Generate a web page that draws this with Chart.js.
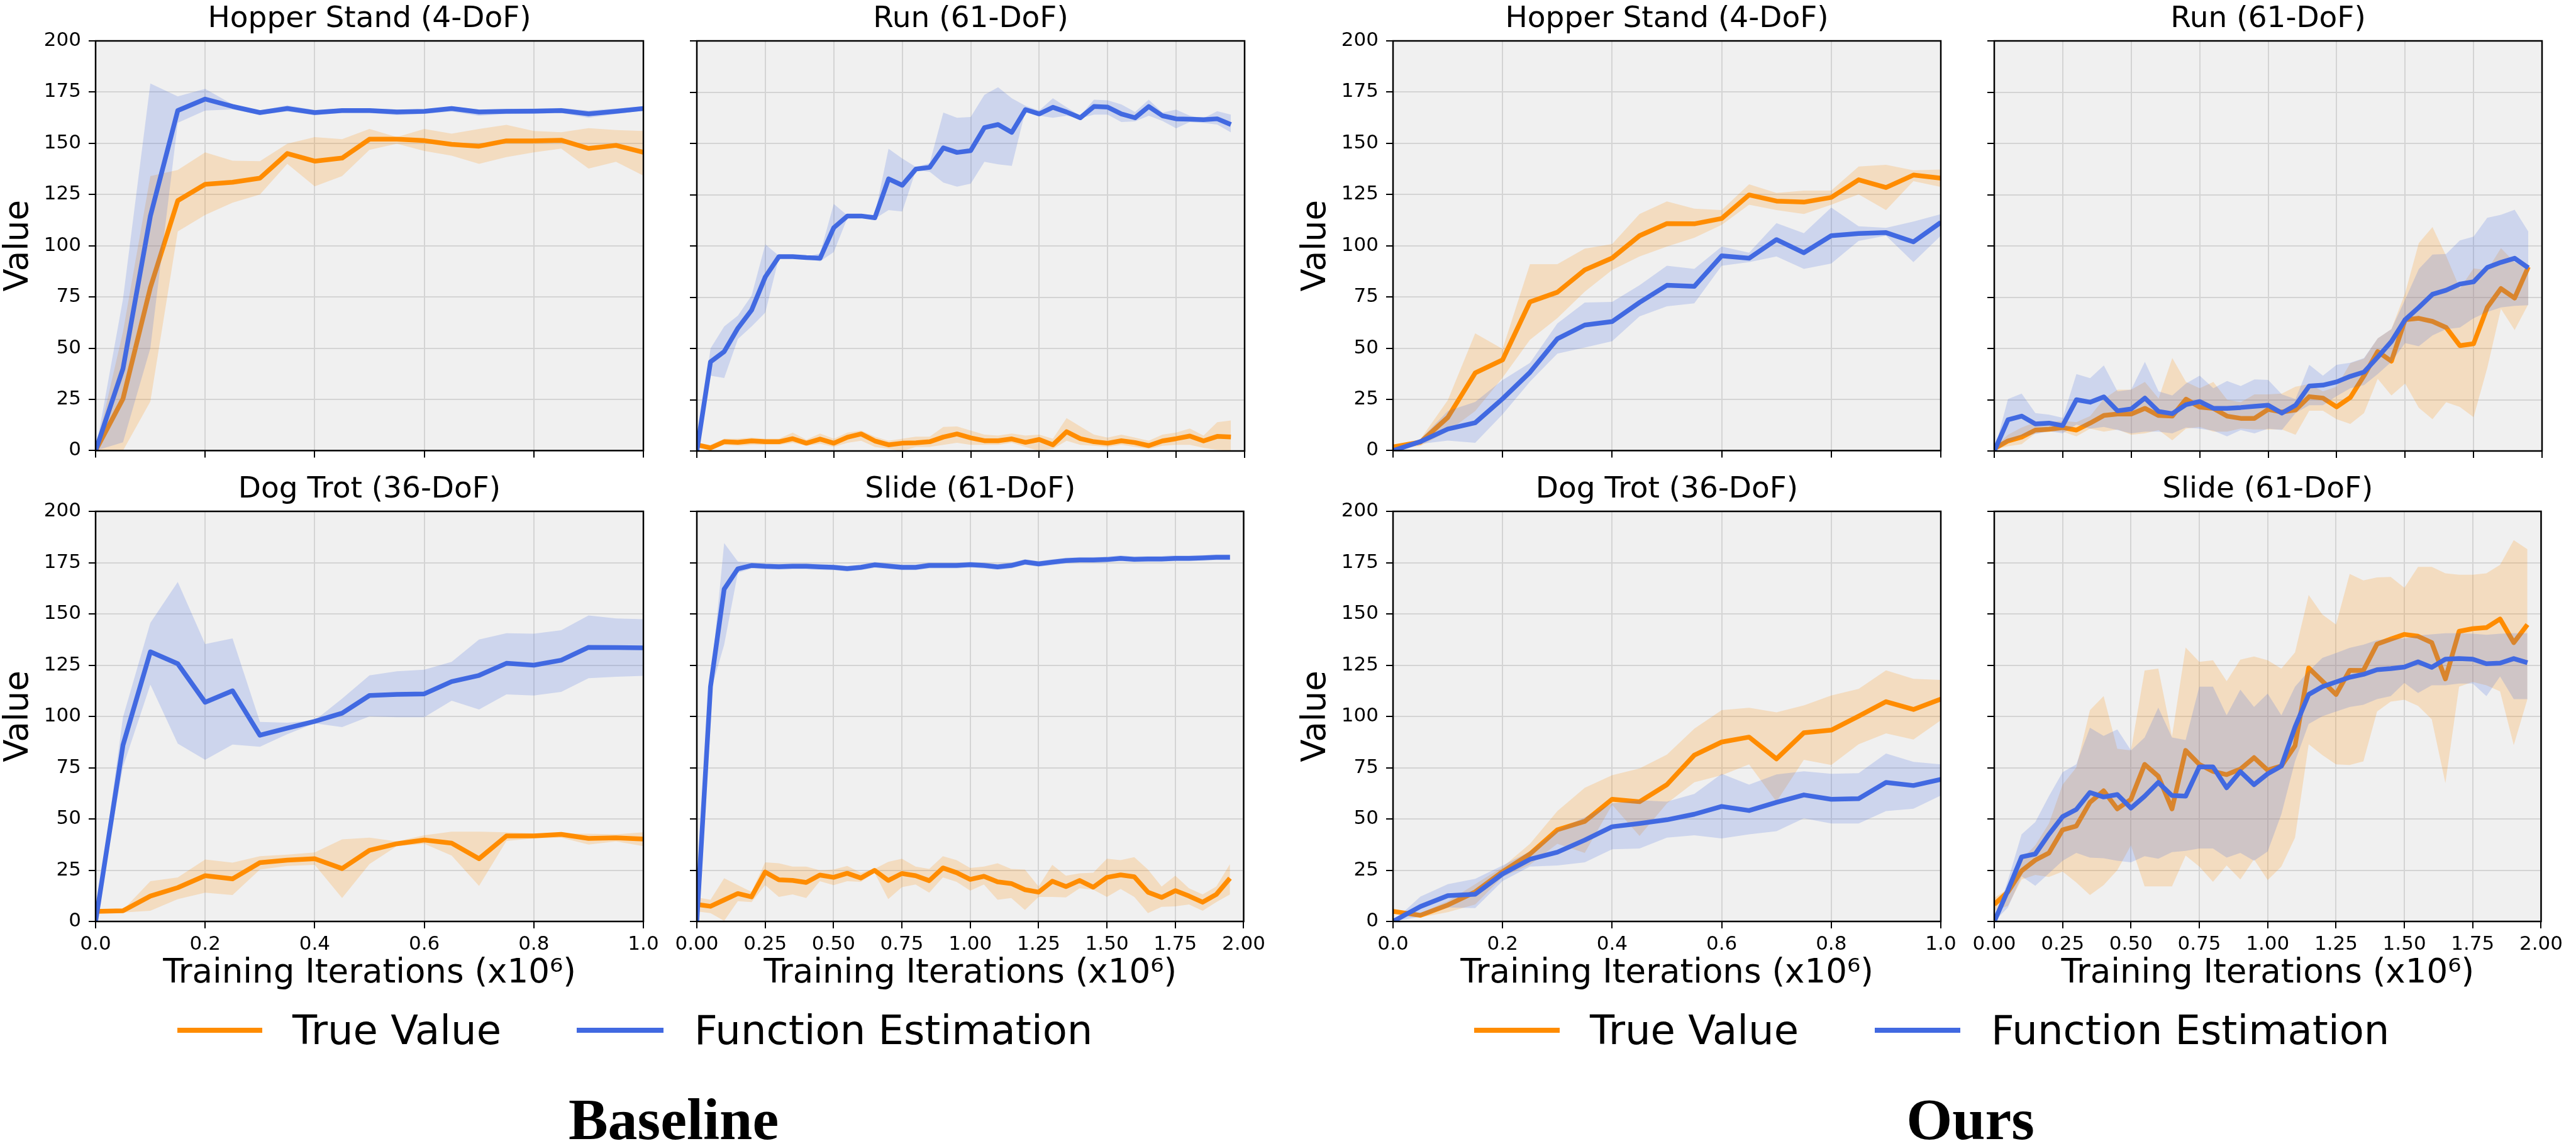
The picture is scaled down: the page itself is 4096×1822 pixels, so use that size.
<!DOCTYPE html>
<html>
<head>
<meta charset="utf-8">
<script src="https://cdn.jsdelivr.net/npm/chart.js@4.4.1/dist/chart.umd.min.js"></script>
<style>
  html, body { margin: 0; padding: 0; background: #fff; }
  body { width: 4096px; height: 1822px; position: relative; overflow: hidden; font-family: 'DejaVu Sans', sans-serif; }
  canvas { position: absolute; }
  .leg-line { position: absolute; height: 8px; }
  .leg-text { position: absolute; font-size: 64px; line-height: 1; white-space: nowrap; color: #000; }
  .caption { position: absolute; width: 600px; text-align: center; font-family: 'Liberation Serif', serif; font-weight: bold; font-size: 94px; line-height: 1; color: #000; }
</style>
</head>
<body>

<!-- legends -->
<div class="leg-line" style="left:282px;top:1634px;width:135px;background:#ff8c00"></div>
<div class="leg-text" style="left:465px;top:1606px">True Value</div>
<div class="leg-line" style="left:917px;top:1634px;width:138px;background:#4169e1"></div>
<div class="leg-text" style="left:1104px;top:1606px">Function Estimation</div>

<div class="leg-line" style="left:2344px;top:1634px;width:136px;background:#ff8c00"></div>
<div class="leg-text" style="left:2528px;top:1606px">True Value</div>
<div class="leg-line" style="left:2981px;top:1634px;width:136px;background:#4169e1"></div>
<div class="leg-text" style="left:3166px;top:1606px">Function Estimation</div>

<div class="caption" style="left:771px;top:1732px">Baseline</div>
<div class="caption" style="left:2833px;top:1732px">Ours</div>

<script>
// x positions (x10^6 iterations)
const xShort = [0, 0.05, 0.1, 0.15, 0.2, 0.25, 0.3, 0.35, 0.4, 0.45, 0.5, 0.55, 0.6, 0.65, 0.7, 0.75, 0.8, 0.85, 0.9, 0.95, 1.0];
const xLong = [0, 0.05, 0.1, 0.15, 0.2, 0.25, 0.3, 0.35, 0.4, 0.45, 0.5, 0.55, 0.6, 0.65, 0.7, 0.75, 0.8, 0.85, 0.9, 0.95,
               1.0, 1.05, 1.1, 1.15, 1.2, 1.25, 1.3, 1.35, 1.4, 1.45, 1.5, 1.55, 1.6, 1.65, 1.7, 1.75, 1.8, 1.85, 1.9, 1.95];
const yTicks = [0, 25, 50, 75, 100, 125, 150, 175, 200];

// ---- Baseline ----
const hopperBaseTrue   = [0, 25.3, 79.6, 122, 130, 131, 133, 145, 141.3, 142.8, 152, 152, 151.3, 149.5, 148.6, 151.2, 151.2, 151.5, 147.5, 149, 145.6];
const hopperBaseTrueHi = [0, 58, 134, 137, 145.6, 141.5, 141.3, 149.8, 153, 152, 157, 153, 157, 154.7, 157, 159, 156, 155.4, 157.4, 156.5, 156];
const hopperBaseTrueLo = [0, 0, 24, 107, 115, 121, 125, 140, 129, 134, 146.8, 149.8, 146.3, 144, 140, 143.3, 145.6, 147.4, 137.7, 141, 134.2];
const hopperBaseEst    = [0, 40, 114.5, 166, 171.6, 168, 165, 167, 165, 166, 166, 165.3, 165.6, 167, 165.3, 165.6, 165.7, 166, 164.4, 165.6, 167];
const hopperBaseEstHi  = [0, 74, 179.2, 172.9, 176.6, 169, 166, 168.5, 166.3, 167, 167, 166.5, 166.5, 168, 166.5, 166.8, 167, 167.2, 166, 167, 168];
const hopperBaseEstLo  = [0, 4, 50, 160, 166, 166.5, 164, 165.5, 163.8, 164.8, 164.8, 163.8, 164.4, 165.5, 163.5, 164.3, 164.4, 164.8, 162.5, 164.3, 166];

const runBaseTrue   = [3, 1.5, 4.5, 4.2, 4.9, 4.5, 4.5, 6, 3.8, 5.8, 3.8, 6.7, 8.3, 4.9, 3, 3.8, 4, 4.5, 6.8, 8.3,
                       6.4, 5, 5, 5.9, 4.2, 5.6, 3, 9.4, 6, 4.5, 3.8, 5, 4.1, 2.6, 4.9, 6, 7.3, 4.9, 7.1, 6.8];
const runBaseTrueHi = [4, 3, 6, 6, 6.5, 6, 6, 9, 5.5, 8.5, 6, 9, 10, 7, 5, 6, 7, 7, 11.7, 12,
                       10, 8, 7.5, 8.5, 7.5, 8, 6, 16, 12, 8, 6.5, 8, 6.5, 5, 8, 9, 11, 7.5, 14, 14.9];
const runBaseTrueLo = [2, 0.5, 3, 2.5, 3, 3, 3, 4, 2.5, 3.5, 2, 4, 5, 2, 1, 0, 2, 2, 3, 4,
                       3, 3, 3, 4, 2, 0, 1, 5, 3, 2.5, 2, 3, 2, 1, 2.5, 3, 3, 1.5, 0.5, 0];
const runBaseEst    = [0, 43.5, 48.5, 59.9, 68.7, 84.9, 94.8, 94.8, 94.3, 94, 108.9, 114.6, 114.6, 113.7, 132.7, 129.6, 137.5, 138.3, 147.8, 145.6,
                       146.5, 157.7, 159.2, 155.4, 166.5, 164.4, 167.6, 165.3, 162.5, 168, 167.7, 164.4, 162.5, 168, 163.5, 162, 161.8, 161.6, 162, 159.2];
const runBaseEstHi  = [0, 50, 60.7, 66, 75.8, 100.8, 95.2, 95.2, 94.8, 96.3, 120.5, 114.9, 115, 115.2, 147.4, 142.6, 138.5, 140.3, 165, 162.5,
                       162.9, 173.7, 177.4, 172, 168.3, 166, 172, 167.6, 163.5, 171.3, 171, 169, 165.3, 171.3, 165, 166.5, 163.5, 162.3, 165.7, 164];
const runBaseEstLo  = [0, 36.7, 35.6, 54.6, 60.7, 67.5, 94.4, 94.4, 93.7, 92.5, 97, 113.7, 114, 113.3, 117.5, 116.8, 137, 136.2, 130.9, 128.9,
                       130.4, 141, 139.8, 139, 166, 163.5, 162.5, 163.5, 162.3, 164, 164, 160.4, 160.7, 163.5, 161, 157.4, 160.4, 160, 159.2, 155.4];

const dogBaseTrue   = [4.9, 5.2, 12.4, 16.5, 22.3, 20.8, 28.7, 29.9, 30.6, 25.8, 34.7, 37.9, 39.7, 38.2, 30.6, 41.7, 41.7, 42.5, 40.5, 40.8, 40.2];
const dogBaseTrueHi = [5.6, 5.6, 19.6, 21.5, 30.2, 28.7, 31.8, 32.6, 33.7, 40, 40.9, 39, 42, 43.8, 43.8, 43.5, 43, 42.8, 42.8, 42.5, 43.5];
const dogBaseTrueLo = [4.1, 4.4, 5.2, 10.9, 14, 12.9, 25.3, 27.1, 27.6, 11.4, 28, 36.7, 37.9, 32.1, 17.3, 39.3, 40.5, 40.9, 37.5, 39, 36.7];
const dogBaseEst    = [0, 86, 131.5, 125.7, 106.9, 112.5, 90.8, 94.3, 97.6, 101.6, 110.2, 110.7, 111, 117, 120, 125.9, 125, 127.4, 133.7, 133.6, 133.4];
const dogBaseEstHi  = [0, 99.6, 145.6, 165.6, 135.3, 138, 97.3, 96.9, 98, 108.7, 120, 122, 122.8, 126.6, 137.5, 140.6, 140.3, 142, 149.2, 147.8, 147.4];
const dogBaseEstLo  = [0, 75.4, 115.5, 86.7, 78.8, 86.3, 85.2, 91.3, 96.6, 94.8, 100, 99.6, 99.6, 107.7, 103.4, 110.7, 110.2, 112, 118.6, 119.3, 119.8];

const slideBaseTrue   = [8.3, 7.4, 10.5, 13.6, 12, 24.1, 20.3, 20, 19, 22.6, 21.5, 23.5, 21.2, 24.9, 20, 23.4, 22.3, 19.9, 26.1, 23.8,
                         20.5, 22, 19.3, 18.5, 15.5, 14.3, 19.6, 17, 20, 16.7, 21.5, 22.7, 21.8, 14.3, 11.7, 15, 12.4, 9.4, 13.2, 21.1];
const slideBaseTrueHi = [11.7, 10.6, 21.1, 17.7, 14.4, 28.8, 28.4, 26.8, 26.8, 24.9, 25.3, 27.1, 23.8, 25.6, 29.1, 30.6, 26.8, 25.6, 31.8, 29.9,
                         26.1, 26.8, 28.4, 25.6, 25.3, 17, 27.6, 22.3, 23.5, 23.8, 30.6, 29.9, 31.4, 25.3, 17, 22.3, 16.2, 13.2, 17, 28];
const slideBaseTrueLo = [4.9, 4.1, 0.3, 9.9, 9.4, 17.7, 12, 13.2, 11.4, 19.6, 17.7, 19.6, 19.3, 23.8, 10.9, 16.7, 18, 14, 21.5, 19.3,
                         15, 18, 10.6, 11.4, 5.6, 12, 12, 11.7, 16.2, 15.5, 12, 15.9, 12, 4.1, 7.1, 7.4, 8.3, 5.2, 9.4, 13.2];
const slideBaseEst    = [0, 114.5, 162.1, 172, 173.6, 173.2, 173, 173.2, 173.2, 172.9, 172.7, 172.1, 172.7, 173.9, 173.3, 172.7, 172.7, 173.6, 173.6, 173.6,
                         174, 173.6, 172.9, 173.6, 175.3, 174.4, 175.2, 176, 176.3, 176.3, 176.5, 177.1, 176.6, 176.8, 176.8, 177.1, 177.1, 177.3, 177.6, 177.6];
const slideBaseEstHi  = [0, 116, 184.5, 175.5, 175, 174.6, 174.4, 174.6, 174.6, 174.3, 174.1, 173.5, 174.1, 175.3, 174.7, 174.1, 174.1, 175, 175, 175,
                         175.4, 175, 174.3, 175, 176.7, 175.8, 176.6, 177.4, 177.7, 177.7, 177.9, 178.5, 178, 178.2, 178.2, 178.5, 178.5, 178.7, 179, 179];
const slideBaseEstLo  = [0, 112, 135, 170, 172.2, 171.8, 171.6, 171.8, 171.8, 171.5, 171.3, 170.7, 171.3, 172.5, 171.9, 171.3, 171.3, 172.2, 172.2, 172.2,
                         172.6, 172.2, 171.5, 172.2, 173.9, 173, 173.8, 174.6, 174.9, 174.9, 175.1, 175.7, 175.2, 175.4, 175.4, 175.7, 175.7, 175.9, 176.2, 176.2];

// ---- Ours ----
const hopperOursTrue   = [1.8, 4.1, 16.2, 37.9, 44.3, 72.6, 77.3, 88.2, 94, 104.9, 110.8, 110.7, 113.3, 124.8, 121.8, 121.3, 123.6, 132.2, 128.4, 134.5, 133];
const hopperOursTrueHi = [2.3, 5.6, 24.6, 57.2, 49.6, 91, 91, 98.6, 100.8, 115.5, 121.6, 118.1, 117.4, 130, 125.8, 126.9, 126.9, 138.7, 139.5, 136.8, 137.2];
const hopperOursTrueLo = [0.8, 2.3, 9.4, 19.3, 35.6, 54.1, 64.7, 77.6, 88.2, 94.8, 99.6, 103.9, 110.2, 120, 117.4, 115.5, 120, 125.1, 117.4, 131.5, 128.7];
const hopperOursEst    = [0, 4.4, 10.5, 13.6, 25.3, 38.2, 54.6, 61.3, 63, 72.3, 80.7, 80.2, 95.1, 93.9, 103, 96.6, 104.9, 106, 106.4, 101.9, 111.4];
const hopperOursEstHi  = [0, 5.6, 19.3, 23.8, 34.4, 42.8, 62.1, 72.3, 72.6, 80.7, 90.2, 88.7, 99.6, 96.6, 111, 106.1, 118.6, 109.5, 108.7, 111.8, 115.4];
const hopperOursEstLo  = [0, 3.3, 4.9, 3.8, 17.7, 33.7, 47.3, 50.3, 53.4, 65.5, 70.4, 71.9, 90.2, 92, 94.8, 88.7, 91.3, 102.4, 104.9, 92, 104.9];

const runOursTrue   = [1.1, 4.9, 6.8, 10.2, 10.6, 11.4, 10.2, 13.6, 17.3, 18, 18, 20.8, 17.3, 17, 25.3, 21.4, 20.8, 17, 15.9, 15.9,
                       20.3, 19, 20, 26.5, 25.8, 21.5, 26.1, 36.7, 48.5, 43.8, 64, 64.7, 63.2, 60.2, 51.4, 52.3, 70, 79.2, 74.6, 89.8];
const runOursTrueHi = [1.5, 7.9, 11.4, 14, 14, 14.7, 14, 17, 25.3, 29.9, 29.9, 33.7, 25.6, 45.3, 33.7, 30.6, 33.7, 25, 23.8, 27.6,
                       27.6, 28, 31.4, 32.6, 29.1, 31.4, 42.8, 45, 54.9, 59.4, 76.9, 101.4, 109.2, 95.1, 79.2, 89, 88.2, 98.9, 92, 89.8];
const runOursTrueLo = [0.8, 2.3, 3.3, 8.6, 9.4, 9.4, 7.1, 10.9, 9.4, 10.5, 7.9, 8.6, 10.2, 5.2, 10.9, 11.7, 9.4, 9.4, 11, 10.5,
                       10.5, 10.5, 7.9, 19.6, 19.6, 15.5, 13.2, 18.5, 35.2, 27.1, 32.9, 21.1, 15.5, 23.8, 21.5, 16.5, 40.5, 69.3, 59, 71.6];
const runOursEst    = [0, 15.2, 17, 13.2, 13.6, 12.4, 25, 23.8, 26.4, 19.6, 20.5, 25.8, 19.3, 18.2, 22.6, 24.1, 20.8, 20.8, 21.2, 21.8,
                       22.3, 18.5, 22.3, 31.7, 32.1, 33.7, 36.4, 38.5, 45.8, 53.4, 64, 70, 76.4, 78.4, 81.4, 82.5, 89.5, 92, 94, 89.3];
const runOursEstHi  = [0, 25.3, 28, 18.5, 17.7, 16.2, 37.5, 35.5, 41.7, 29.1, 29.9, 43.5, 29.1, 27.1, 32.9, 36.7, 30.6, 34.1, 31.7, 34.9,
                       34.7, 27.6, 25.3, 42, 36.7, 42, 43, 45.3, 54.9, 59.4, 73.8, 88.7, 95.8, 96.1, 102.7, 104.5, 113.7, 115.2, 117.6, 107];
const runOursEstLo  = [0, 4.1, 7.1, 8.3, 9.7, 8.6, 12.9, 10.9, 11.7, 10.2, 8.6, 9.4, 9.4, 8.6, 11.4, 10.9, 9.9, 7.1, 10.2, 8.6,
                       10.9, 10.2, 18.5, 22.3, 22.3, 26.8, 30.6, 32.1, 37.5, 43.5, 52.6, 51.1, 56.4, 59.4, 60.2, 64.7, 67.8, 70, 70.8, 71.1];

const dogOursTrue   = [4.9, 3, 8, 14.4, 24.3, 32.9, 44.7, 48.8, 59.6, 58.4, 66.7, 81.1, 87.5, 89.9, 79.3, 92, 93.3, 100.1, 107.2, 103.4, 108.4];
const dogOursTrueHi = [5.6, 4.1, 9.9, 18.2, 26.5, 37.9, 53.8, 65.2, 71.3, 74.6, 81.4, 94, 103.1, 104.2, 102, 105.4, 110.2, 113.4, 122.5, 118.3, 117.8];
const dogOursTrueLo = [4.1, 2, 4.5, 8.3, 21.7, 27.7, 37.9, 33.4, 56.9, 41.7, 57.6, 67.9, 71.3, 76.6, 58.4, 78.8, 76.3, 86.4, 91.7, 88.7, 98.1];
const dogOursEst    = [0, 7.3, 12.6, 13.3, 23.2, 30.3, 33.8, 39.7, 46.2, 47.8, 49.6, 52.3, 56.1, 54.1, 58.1, 61.7, 59.6, 59.9, 67.8, 66.3, 69.3];
const dogOursEstHi  = [0, 12.1, 18.2, 20.8, 27.3, 34.1, 44.7, 50.8, 57.6, 59.1, 58.4, 62.2, 72, 66.7, 71.7, 73.2, 72, 72.3, 81.9, 77.8, 76.6];
const dogOursEstLo  = [0, 2.3, 6.8, 6.5, 19.7, 26.8, 27.3, 28.8, 35.2, 35.6, 40.9, 42, 40.5, 42.5, 44, 50.3, 47.8, 47.8, 53.8, 55, 61.4];

const slideOursTrue   = [8.3, 14.4, 24.7, 29.9, 33.4, 44.7, 46.5, 58.1, 63.7, 54.9, 59.6, 76.6, 70.8, 54.9, 83.4, 76.6, 73.2, 71.6, 74.3, 79.9,
                         73.8, 75.8, 85.7, 123.6, 117.2, 110.7, 122.5, 122.4, 135.3, 137.7, 140, 139.1, 136, 118.3, 141.5, 142.8, 143.3, 147.5, 136, 144.8];
const slideOursTrueHi = [11.4, 15.9, 30.3, 37.1, 47.8, 66.7, 75.1, 103.1, 109.9, 84.2, 83.4, 122.4, 123.3, 90.2, 133.6, 126.6, 127.4, 117.2, 127.7, 129.2,
                         127.4, 123.3, 131.2, 159.2, 149.7, 144.8, 169.5, 166.3, 167.8, 168, 162.7, 172.9, 172.9, 169.8, 169.1, 169.1, 169.8, 173.9, 186, 181.5];
const slideOursTrueLo = [5.3, 7.6, 20.5, 22.7, 21.7, 24.3, 19, 12.9, 17.7, 25, 37.1, 17.1, 17.1, 17.1, 32.1, 26.8, 19.3, 27.3, 20.5, 30.3,
                         20.2, 26.8, 40.9, 86.4, 81.1, 76.6, 76.3, 78.1, 102.4, 107.2, 108.1, 105.1, 98.6, 67.5, 114.5, 116.8, 115.2, 112.2, 86, 108.4];
const slideOursEst    = [0, 15.2, 31.5, 32.9, 42.5, 51.1, 54.6, 62.9, 60.7, 61.9, 55.3, 61.1, 67.8, 61.4, 61.1, 75.4, 75.4, 65.2, 73.1, 66.7,
                         72, 75.8, 94.8, 110.7, 114.5, 116.8, 119.1, 120.5, 122.8, 123.3, 124.1, 126.6, 123.9, 127.9, 128.2, 127.9, 125.7, 126, 128.2, 126.2];
const slideOursEstHi  = [0, 20, 42.5, 48.5, 61.1, 72.8, 76.6, 94.5, 90.5, 93.6, 83.4, 89.7, 104.3, 89.7, 88.5, 114.5, 114.5, 100.5, 113, 104.6,
                         111.1, 100.5, 114.5, 122.1, 128.5, 130.9, 133.4, 135, 137.2, 138, 138, 139.5, 140, 140.6, 140.6, 140.3, 139.8, 140.3, 140.6, 140.6];
const slideOursEstLo  = [0, 6.8, 22, 17.4, 23.5, 29.6, 33.4, 31.1, 30.8, 29.6, 28.8, 31.8, 30.6, 33.8, 34.4, 35.6, 35.6, 31.1, 33.4, 29.6,
                         34.1, 52.3, 78.1, 96.3, 100.1, 102.4, 104.6, 105.7, 108.4, 109.9, 116.3, 111.4, 115.2, 115.2, 116, 116, 109.9, 119.5, 108.4, 108.4];

// colours
const ORANGE = '#ff8c00';
const BLUE = '#4169e1';
const ORANGE_BAND = 'rgba(255, 140, 0, 0.2)';
const BLUE_BAND = 'rgba(65, 105, 225, 0.2)';

Chart.defaults.font.family = "'DejaVu Sans', sans-serif";
Chart.defaults.color = '#000';

// grey plot background and black frame around the plot area
const plotFrame = {
    id: 'plotFrame',
    beforeDraw(chart) {
        const { ctx, chartArea: a } = chart;
        ctx.save();
        ctx.fillStyle = '#f0f0f0';
        ctx.fillRect(a.left, a.top, a.width, a.height);
        ctx.restore();
    },
    afterDraw(chart) {
        const { ctx, chartArea: a } = chart;
        ctx.save();
        ctx.strokeStyle = '#000';
        ctx.lineWidth = 2.5;
        ctx.strokeRect(a.left, a.top, a.width, a.height);
        ctx.restore();
    }
};

const PLOT_W = 871, PLOT_H = 652, TITLE_H = 65, RIGHT_PAD = 40;

const panels = [
    { title: 'Hopper Stand (4-DoF)', left: 152,  top: 65,  first: true,  bottom: false, xs: xShort, xMax: 1, xStep: 0.2,  digits: 1,
      tv: hopperBaseTrue, tvHi: hopperBaseTrueHi, tvLo: hopperBaseTrueLo, fe: hopperBaseEst, feHi: hopperBaseEstHi, feLo: hopperBaseEstLo },
    { title: 'Run (61-DoF)',         left: 1108, top: 65,  first: false, bottom: false, xs: xLong,  xMax: 2, xStep: 0.25, digits: 2,
      tv: runBaseTrue, tvHi: runBaseTrueHi, tvLo: runBaseTrueLo, fe: runBaseEst, feHi: runBaseEstHi, feLo: runBaseEstLo },
    { title: 'Dog Trot (36-DoF)',    left: 152,  top: 813, first: true,  bottom: true,  xs: xShort, xMax: 1, xStep: 0.2,  digits: 1,
      tv: dogBaseTrue, tvHi: dogBaseTrueHi, tvLo: dogBaseTrueLo, fe: dogBaseEst, feHi: dogBaseEstHi, feLo: dogBaseEstLo },
    { title: 'Slide (61-DoF)',       left: 1108, top: 813, first: false, bottom: true,  xs: xLong,  xMax: 2, xStep: 0.25, digits: 2,
      tv: slideBaseTrue, tvHi: slideBaseTrueHi, tvLo: slideBaseTrueLo, fe: slideBaseEst, feHi: slideBaseEstHi, feLo: slideBaseEstLo },
    { title: 'Hopper Stand (4-DoF)', left: 2215, top: 65,  first: true,  bottom: false, xs: xShort, xMax: 1, xStep: 0.2,  digits: 1,
      tv: hopperOursTrue, tvHi: hopperOursTrueHi, tvLo: hopperOursTrueLo, fe: hopperOursEst, feHi: hopperOursEstHi, feLo: hopperOursEstLo },
    { title: 'Run (61-DoF)',         left: 3171, top: 65,  first: false, bottom: false, xs: xLong,  xMax: 2, xStep: 0.25, digits: 2,
      tv: runOursTrue, tvHi: runOursTrueHi, tvLo: runOursTrueLo, fe: runOursEst, feHi: runOursEstHi, feLo: runOursEstLo },
    { title: 'Dog Trot (36-DoF)',    left: 2215, top: 813, first: true,  bottom: true,  xs: xShort, xMax: 1, xStep: 0.2,  digits: 1,
      tv: dogOursTrue, tvHi: dogOursTrueHi, tvLo: dogOursTrueLo, fe: dogOursEst, feHi: dogOursEstHi, feLo: dogOursEstLo },
    { title: 'Slide (61-DoF)',       left: 3171, top: 813, first: false, bottom: true,  xs: xLong,  xMax: 2, xStep: 0.25, digits: 2,
      tv: slideOursTrue, tvHi: slideOursTrueHi, tvLo: slideOursTrueLo, fe: slideOursEst, feHi: slideOursEstHi, feLo: slideOursEstLo }
];

function points(xs, ys) {
    return xs.map((x, i) => ({ x: x, y: ys[i] }));
}

function lineSet(label, xs, ys, color) {
    return { label: label, data: points(xs, ys), borderColor: color, borderWidth: 7.5,
             borderJoinStyle: 'round', borderCapStyle: 'butt', pointRadius: 0, tension: 0, fill: false };
}

function bandSet(xs, ys, color, fill) {
    return { data: points(xs, ys), borderColor: 'transparent', borderWidth: 0, backgroundColor: color,
             pointRadius: 0, tension: 0, fill: fill };
}

panels.forEach(p => {
    const yw = p.first ? 150 : 60;
    const xh = p.bottom ? 120 : 30;
    const canvas = document.createElement('canvas');
    canvas.width = yw + PLOT_W + RIGHT_PAD;
    canvas.height = TITLE_H + PLOT_H + xh;
    canvas.style.left = (p.left - yw) + 'px';
    canvas.style.top = (p.top - TITLE_H) + 'px';
    document.body.appendChild(canvas);

    const grid = { color: '#d4d4d4', lineWidth: 2, tickColor: '#000', tickLength: 11, tickWidth: 2 };

    // index 0 is drawn last, so the blue set sits on top of the orange set
    new Chart(canvas.getContext('2d'), {
        type: 'line',
        data: {
            datasets: [
                lineSet('Function Estimation', p.xs, p.fe, BLUE),
                bandSet(p.xs, p.feHi, BLUE_BAND, '+1'),
                bandSet(p.xs, p.feLo, BLUE_BAND, false),
                lineSet('True Value', p.xs, p.tv, ORANGE),
                bandSet(p.xs, p.tvHi, ORANGE_BAND, '+1'),
                bandSet(p.xs, p.tvLo, ORANGE_BAND, false)
            ]
        },
        options: {
            responsive: false,
            animation: false,
            layout: { padding: { left: 0, right: RIGHT_PAD, top: 0, bottom: 0 } },
            plugins: {
                legend: { display: false },
                tooltip: { enabled: false },
                title: { display: true, fullSize: false, text: p.title, color: '#000',
                         font: { size: 47, weight: 'normal' }, padding: { top: 3, bottom: 5.6 } }
            },
            scales: {
                x: {
                    type: 'linear', min: 0, max: p.xMax,
                    ticks: { stepSize: p.xStep, display: p.bottom, padding: 7, font: { size: 31 },
                             maxRotation: 0, autoSkip: false, callback: v => v.toFixed(p.digits) },
                    grid: grid,
                    border: { display: false },
                    title: { display: p.bottom, text: 'Training Iterations (x10\u2076)',
                             font: { size: 53 }, padding: { top: 0, bottom: 4.5 } },
                    afterFit: s => { s.height = xh; }
                },
                y: {
                    min: 0, max: 200,
                    afterBuildTicks: s => { s.ticks = yTicks.map(v => ({ value: v })); },
                    ticks: { display: p.first, padding: 12, font: { size: 31 } },
                    grid: grid,
                    border: { display: false },
                    title: { display: p.first, text: 'Value', font: { size: 53, lineHeight: 1 },
                             padding: { top: 2.2, bottom: 0 } },
                    afterFit: s => { s.width = yw; }
                }
            }
        },
        plugins: [plotFrame]
    });
});
</script>
</body>
</html>
